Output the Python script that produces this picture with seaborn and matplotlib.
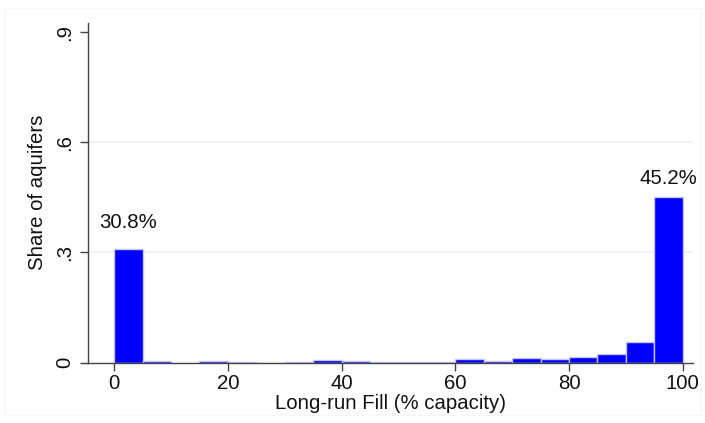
import numpy as np
import pandas as pd
import matplotlib
matplotlib.use("Agg")
import matplotlib.pyplot as plt
import seaborn as sns

# Data: share of aquifers per 5-point bin of long-run fill
bin_edges = [0, 5, 10, 15, 20, 25, 30, 35, 40, 45, 50, 55, 60, 65, 70, 75, 80, 85, 90, 95, 100]
bin_centers = [2.5, 7.5, 12.5, 17.5, 22.5, 27.5, 32.5, 37.5, 42.5, 47.5,
               52.5, 57.5, 62.5, 67.5, 72.5, 77.5, 82.5, 87.5, 92.5, 97.5]
shares = [0.308, 0.003, 0.0, 0.005, 0.002, 0.0, 0.002, 0.008, 0.004, 0.002,
          0.002, 0.001, 0.009, 0.004, 0.012, 0.010, 0.016, 0.023, 0.056, 0.452]
y_ticks = [0, 0.3, 0.6, 0.9]
y_ticklabels = ["0", ".3", ".6", ".9"]
x_ticks = [0, 20, 40, 60, 80, 100]
labels = [(2.5, 0.3666, "30.8%"), (97.5, 0.4865, "45.2%")]

df = pd.DataFrame({"fill": bin_centers, "share": shares})

sns.set_theme(style="white")
plt.rcParams['font.family'] = ['Liberation Sans', 'DejaVu Sans']

fig = plt.figure(figsize=(7.05, 4.23), dpi=100)
ax = fig.add_axes([88/705, 1-362.5/423, (693-88)/705, (362.5-23)/423])

sns.histplot(data=df, x="fill", weights="share", bins=bin_edges, ax=ax,
             color="#0000ff", edgecolor="#c4c4ff", linewidth=1.0, alpha=1.0)

ax.set_xlim(-4.6, 101.8)
ax.set_ylim(0, 0.925)

ax.set_yticks(y_ticks)
ax.set_yticklabels(y_ticklabels, rotation=90, va="center")
ax.set_xticks(x_ticks)

for y in [0.3, 0.6]:
    ax.axhline(y, color="#eaf0f0", linewidth=1.2, zorder=0)

for s in ["top", "right"]:
    ax.spines[s].set_visible(False)
for s in ["left", "bottom"]:
    ax.spines[s].set_color("#444444")
    ax.spines[s].set_linewidth(1.0)

ax.tick_params(axis="both", which="major", length=6, width=1.0, color="#444444",
               labelsize=14.7, labelcolor="#111111", direction="out",
               bottom=True, left=True)
ax.tick_params(axis="x", pad=2)
ax.tick_params(axis="y", pad=4)

ax.set_xlabel("Long-run Fill (% capacity)", fontsize=14.7, color="#111111", labelpad=1)
ax.set_ylabel("Share of aquifers", fontsize=14.7, color="#111111", labelpad=6)

for x, y, t in labels:
    ax.text(x, y, t, ha="center", va="baseline", fontsize=14.7, color="#111111")

# faint outer graph region border
fig.patches.append(plt.Rectangle((4/705, 1-415/423), 697/705, 407/423,
                                 transform=fig.transFigure, fill=False,
                                 edgecolor="#f6f6f6", linewidth=1.0))

fig.savefig("out.png", dpi=100, facecolor="white")
